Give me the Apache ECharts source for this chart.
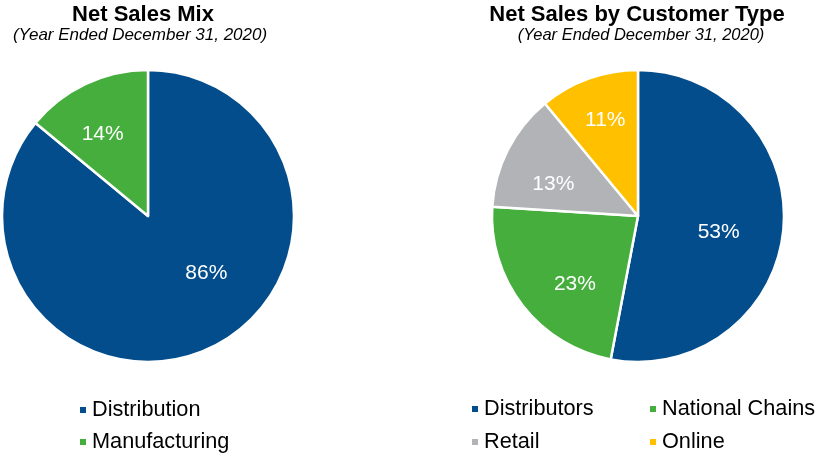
<!DOCTYPE html>
<html>
<head>
<meta charset="utf-8">
<script src="https://cdn.jsdelivr.net/npm/echarts@6/dist/echarts.min.js"></script>
<style>
html,body{margin:0;padding:0;background:#fff;}
#c{width:818px;height:458px;}
</style>
</head>
<body>
<div id="c"></div>
<script>
// Data
var mixNames = ['Distribution', 'Manufacturing'];
var mixValues = [86, 14];
var custNames = ['Distributors', 'National Chains', 'Retail', 'Online'];
var custValues = [53, 23, 13, 11];

var BLUE = '#034D8C', GREEN = '#46AE3C', GRAY = '#B2B3B6', YELLOW = '#FFC000';
var FONT = 'Liberation Sans, Arial, sans-serif';

// label nudges (style only)
var mixNudge = [[26, -12], [-13, -13]];
var custNudge = [[5, 9], [-3, 22], [-17, 3], [-7, -24]];

function toData(names, values, colors) {
  return names.map(function (n, i) {
    return { name: n, value: values[i], itemStyle: { color: colors[i] } };
  });
}
function head(text, x) {
  return { text: text, left: x, top: 4, textAlign: 'center', padding: 0,
    textStyle: { fontFamily: FONT, fontSize: 22, fontWeight: 'bold', color: '#000' } };
}
function sub(text, x, fs) {
  return { text: text, left: x, top: 27, textAlign: 'center', padding: 0,
    textStyle: { fontFamily: FONT, fontSize: fs, fontStyle: 'italic', fontWeight: 'normal', color: '#000' } };
}

var chart = echarts.init(document.getElementById('c'));
chart.setOption({
  animation: false,
  title: [
    head('Net Sales Mix', 143),
    sub('(Year Ended December 31, 2020)', 140, 17),
    head('Net Sales by Customer Type', 637),
    sub('(Year Ended December 31, 2020)', 641, 16.5)
  ],
  legend: [
    { data: mixNames, orient: 'vertical', left: 73, top: 394, icon: 'rect', itemWidth: 8, itemHeight: 8, itemGap: 10,
      textStyle: { fontFamily: FONT, fontSize: 21.7, color: '#000' } },
    { data: [custNames[0], custNames[2]], orient: 'vertical', left: 465, top: 393, icon: 'rect', itemWidth: 8, itemHeight: 8, itemGap: 11,
      textStyle: { fontFamily: FONT, fontSize: 21.7, color: '#000' } },
    { data: [custNames[1], custNames[3]], orient: 'vertical', left: 643, top: 393, icon: 'rect', itemWidth: 8, itemHeight: 8, itemGap: 11,
      textStyle: { fontFamily: FONT, fontSize: 21.7, color: '#000' } }
  ],
  series: [
    { type: 'pie', center: [148, 216], radius: 146, startAngle: 90, clockwise: true,
      itemStyle: { borderColor: '#fff', borderWidth: 2.5 },
      label: { position: 'inside', formatter: '{c}%', color: '#fff', fontFamily: FONT, fontSize: 21 },
      labelLine: { show: false },
      labelLayout: function (p) { var n = mixNudge[p.dataIndex]; return { dx: n[0], dy: n[1] }; },
      emphasis: { disabled: true },
      data: toData(mixNames, mixValues, [BLUE, GREEN]) },
    { type: 'pie', center: [638, 216], radius: 146, startAngle: 90, clockwise: true,
      itemStyle: { borderColor: '#fff', borderWidth: 2.5 },
      label: { position: 'inside', formatter: '{c}%', color: '#fff', fontFamily: FONT, fontSize: 21 },
      labelLine: { show: false },
      labelLayout: function (p) { var n = custNudge[p.dataIndex]; return { dx: n[0], dy: n[1] }; },
      emphasis: { disabled: true },
      data: toData(custNames, custValues, [BLUE, GREEN, GRAY, YELLOW]) }
  ]
});
</script>
</body>
</html>
